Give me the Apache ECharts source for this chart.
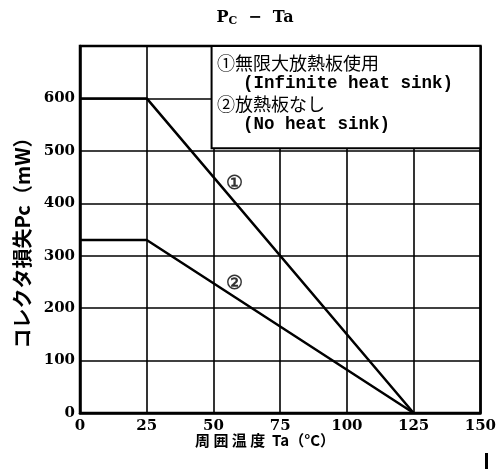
<!DOCTYPE html>
<html><head><meta charset="utf-8">
<script src="https://cdn.jsdelivr.net/npm/echarts@6/dist/echarts.min.js"></script>
<style>html,body{margin:0;padding:0;background:#fff}#c{width:499px;height:469px}</style>
</head><body><div id="c"></div>
<script>
const xTicks = [0, 25, 50, 75, 100, 125, 150];
const yTicks = [0, 100, 200, 300, 400, 500, 600];
const tempInfinite = [0, 25, 125];
const pcInfinite = [600, 600, 0];
const tempNoSink = [0, 25, 125];
const pcNoSink = [330, 330, 0];
const curveMarkers = [
  {name: '①', x: 58, y: 436},
  {name: '②', x: 58, y: 245}
];
const legendLines = ['①無限大放熱板使用', '(Infinite heat sink)', '②放熱板なし', '(No heat sink)'];

const serif = '"DejaVu Serif", "Liberation Serif", serif';
const jp = '"Noto Sans CJK JP", sans-serif';
const mono = '"Liberation Mono", monospace';
const chart = echarts.init(document.getElementById('c'), null, {renderer: 'canvas'});

const lineStyle = {color: '#000', width: 2.5};
const option = {
  animation: false,
  backgroundColor: '#fff',
  grid: {left: 80, right: 16, top: 46, bottom: 56, show: true, borderColor: '#000', borderWidth: 2.5, backgroundColor: 'transparent'},
  title: {
    text: '{a|P}{b|C}{a|  −  Ta}',
    left: 250, top: 4, textAlign: 'center',
    textStyle: {rich: {
      a: {fontFamily: serif, fontWeight: 'bold', fontSize: 16, color: '#000'},
      b: {fontFamily: serif, fontWeight: 'bold', fontSize: 11, color: '#000', padding: [7, 0, 0, 0]}
    }}
  },
  xAxis: {
    type: 'value', min: 0, max: 150, interval: 25,
    axisLine: {show: true, lineStyle: {color: '#000', width: 2.5}},
    axisTick: {show: false},
    splitLine: {show: true, lineStyle: {color: '#000', width: 1.6}},
    axisLabel: {color: '#000', fontFamily: serif, fontWeight: 'bold', fontSize: 15, margin: 6,
      formatter: v => xTicks.includes(v) ? String(v) : ''}
  },
  yAxis: {
    type: 'value', min: 0, max: 700, interval: 100,
    axisLine: {show: true, lineStyle: {color: '#000', width: 2.5}},
    axisTick: {show: false},
    splitLine: {show: true, lineStyle: {color: '#000', width: 1.6}},
    axisLabel: {color: '#000', fontFamily: serif, fontWeight: 'bold', fontSize: 15, margin: 5,
      formatter: v => yTicks.includes(v) ? String(v) : ''}
  },
  series: [
    {type: 'line', data: tempInfinite.map((t, i) => [t, pcInfinite[i]]), symbol: 'none', lineStyle, z: 3,
      markArea: {silent: true, itemStyle: {color: '#fff', borderColor: '#000', borderWidth: 2}, z: 1,
        data: [[{coord: [49.3, 505]}, {coord: [150, 700]}]]}},
    {type: 'line', data: tempNoSink.map((t, i) => [t, pcNoSink[i]]), symbol: 'none', lineStyle, z: 3},
    {type: 'scatter', data: curveMarkers.map(m => ({value: [m.x, m.y], name: m.name})), symbolSize: 0,
      label: {show: true, position: 'inside', formatter: p => p.name, color: '#000', fontFamily: serif, fontWeight: 'bold', fontSize: 19}}
  ],
  graphic: [
    {type: 'text', z: 100, x: 217, y: 63, style: {text: legendLines[0], fontFamily: jp, fontSize: 18, fill: '#000', verticalAlign: 'middle'}},
    {type: 'text', z: 100, x: 243, y: 84, style: {text: legendLines[1], fontFamily: mono, fontWeight: 'bold', fontSize: 17.5, fill: '#000', verticalAlign: 'middle'}},
    {type: 'text', z: 100, x: 217, y: 104, style: {text: legendLines[2], fontFamily: jp, fontSize: 18, fill: '#000', verticalAlign: 'middle'}},
    {type: 'text', z: 100, x: 243, y: 125, style: {text: legendLines[3], fontFamily: mono, fontWeight: 'bold', fontSize: 17.5, fill: '#000', verticalAlign: 'middle'}},
    {type: 'text', z: 100, x: 22, y: 238, rotation: Math.PI / 2, style: {text: 'コレクタ損失Pc（mW）', fontFamily: jp, fontWeight: 'bold', fontSize: 20, fill: '#000', align: 'center', verticalAlign: 'middle'}},
    {type: 'text', z: 100, x: 195, y: 440, style: {text: '周 囲 温 度  Ta（°C）', fontFamily: jp, fontWeight: 'bold', fontSize: 15, fill: '#000', verticalAlign: 'middle'}},
    {type: 'rect', z: 100, left: 485, top: 453, shape: {width: 3, height: 16}, style: {fill: '#000'}}
  ]
};
chart.setOption(option);
</script></body></html>
